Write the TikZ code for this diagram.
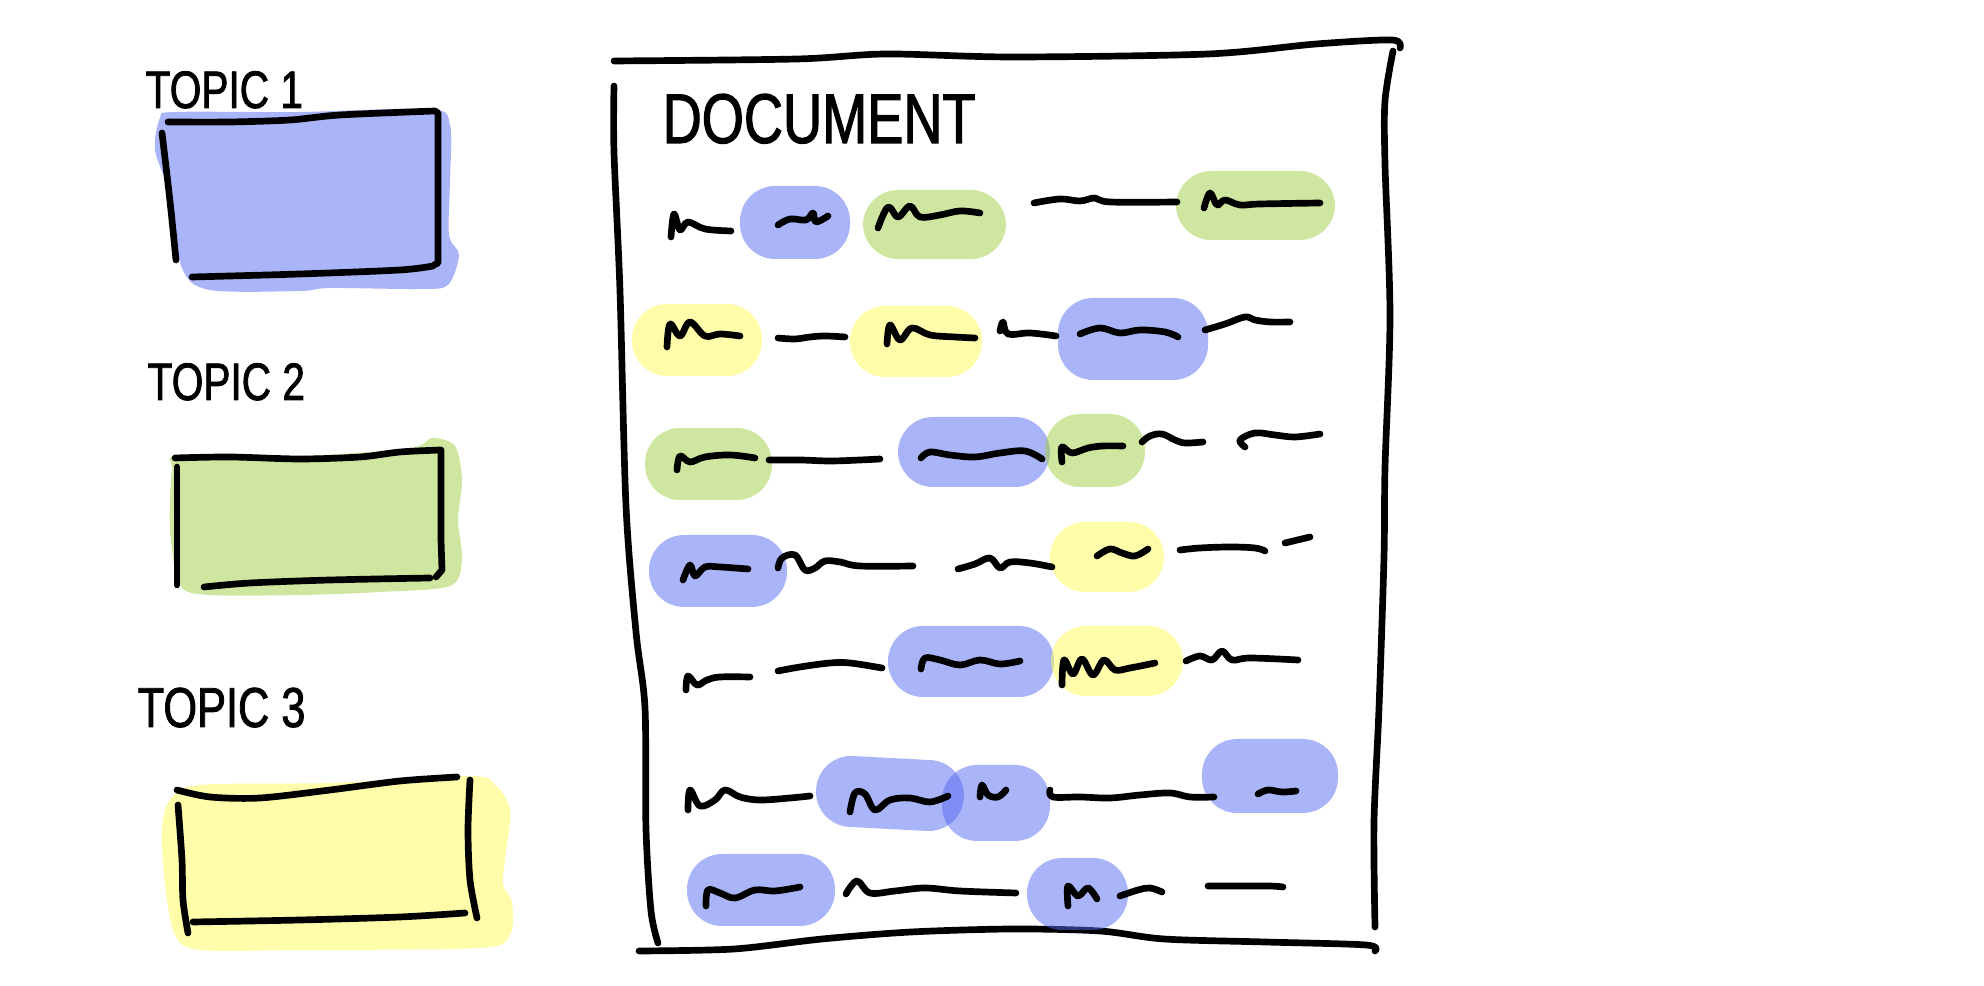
\documentclass[tikz,border=0pt]{standalone}
\usepackage{fontspec}
\newfontfamily\handfont[FakeStretch=0.77, FakeBold=1.5]{Liberation Sans}
\definecolor{topicblue}{RGB}{85,105,241}
\definecolor{topicgreen}{RGB}{159,205,65}
\definecolor{topicyellow}{RGB}{255,251,85}

\begin{document}
\begin{tikzpicture}[x=0.01cm, y=-0.01cm,
    pen/.style={line width=1.9pt, line cap=round, line join=round},
    hlblue/.style={fill=topicblue, fill opacity=0.5},
    hlgreen/.style={fill=topicgreen, fill opacity=0.5},
    hlyellow/.style={fill=topicyellow, fill opacity=0.5},
    blob/.style={rounded corners=10pt},
    handlabel/.style={anchor=base west, inner sep=0pt}]
    \useasboundingbox (0,0) rectangle (1984,986);

    % topic legend on the left
    \fill[hlblue] plot[smooth cycle, tension=0.5] coordinates {(175,112) (300,112) (430,109) (450,125) (450,180) (449,235) (459,255) (448,285) (420,289) (330,288) (300,291) (210,290) (182,268) (168,190) (155,150) (160,118)};
    \fill[hlgreen] plot[smooth cycle, tension=0.5] coordinates {(180,455) (300,456) (410,448) (432,438) (455,446) (462,480) (458,520) (462,560) (450,586) (380,592) (300,595) (210,595) (180,585) (170,530) (172,470)};
    \fill[hlyellow] plot[smooth cycle, tension=0.5] coordinates {(200,785) (330,783) (470,776) (495,785) (510,810) (505,860) (503,885) (512,902) (510,935) (480,948) (300,950) (200,950) (175,935) (165,885) (162,830) (170,800)};

    \node[handlabel, font=\handfont\fontsize{15}{18}\selectfont] (topic1) at (145,108) {TOPIC 1};
    \draw[pen] plot[smooth] coordinates {(168,122) (230,122) (290,120) (340,115) (435,111)} -- (438,113) -- (438,263) -- (434,265);
    \draw[pen] plot[smooth] coordinates {(192,277) (300,274) (400,270) (433,266)};
    \draw[pen] (162,133) .. controls (170,200) .. (176,260);

    \node[handlabel, font=\handfont\fontsize{15}{18}\selectfont] (topic2) at (147,400) {TOPIC 2};
    \draw[pen] plot[smooth] coordinates {(175,458) (230,457) (300,459) (360,457) (400,452) (441,450)} -- (441,540) -- (442,570) -- (436,577);
    \draw[pen] plot[smooth] coordinates {(204,587) (250,583) (330,580) (430,578)};
    \draw[pen] (177,467) -- (177,585);

    \node[handlabel, font=\handfont\fontsize{16}{19}\selectfont] (topic3) at (137,727) {TOPIC 3};
    \draw[pen] plot[smooth] coordinates {(177,790) (210,797) (260,798) (330,790) (400,781) (457,777)};
    \draw[pen] plot[smooth] coordinates {(470,780) (468,830) (470,880) (477,918)};
    \draw[pen] plot[smooth] coordinates {(193,922) (300,920) (400,917) (465,913)};
    \draw[pen] plot[smooth] coordinates {(178,805) (182,860) (183,900) (188,933)};

    % document sheet
    \draw[pen] plot[smooth] coordinates {(614,61) (797,59) (886,54) (1012,57) (1208,54) (1316,44) (1392,40) (1400,48)};
    \draw[pen] plot[smooth] coordinates {(614,86) (614,152) (620,291) (626,506) (636,632) (645,708) (646,829) (651,911) (658,943)};
    \draw[pen] plot[smooth] coordinates {(1393,51) (1385,101) (1385,164) (1390,316) (1385,468) (1384,557) (1379,708) (1374,822) (1375,927)};
    \draw[pen] plot[smooth] coordinates {(639,951) (734,949) (822,939) (911,932) (1012,929) (1100,931) (1164,939) (1265,942) (1366,945) (1375,951)};
    \node[handlabel, font=\handfont\fontsize{20}{24}\selectfont] (doctitle) at (662,143) {DOCUMENT};

    % highlights inside the document
    \fill[hlblue, blob] (740,186) rectangle (850,259);
    \fill[hlgreen, blob] (863,190) rectangle (1006,259);
    \fill[hlgreen, blob] (1176,171) rectangle (1335,240);
    \fill[hlyellow, blob] (632,304) rectangle (762,376);
    \fill[hlyellow, blob] (850,306) rectangle (982,377);
    \fill[hlblue, blob] (1058,298) rectangle (1208,380);
    \fill[hlgreen, blob] (645,428) rectangle (772,500);
    \fill[hlblue, blob] (898,417) rectangle (1050,487);
    \fill[hlgreen, blob] (1045,414) rectangle (1145,487);
    \fill[hlblue, blob] (649,535) rectangle (787,607);
    \fill[hlyellow, blob] (1050,522) rectangle (1164,592);
    \fill[hlblue, blob] (888,626) rectangle (1054,697);
    \fill[hlyellow, blob] (1051,626) rectangle (1183,696);
    \fill[hlblue, blob, rotate around={-3:(890,793)}] (816,758) rectangle (964,829);
    \fill[hlblue, blob] (942,765) rectangle (1050,841);
    \fill[hlblue, blob] (1202,739) rectangle (1338,813);
    \fill[hlblue, blob] (687,854) rectangle (835,926);
    \fill[hlblue, blob] (1027,858) rectangle (1128,930);

    % scribbled words, row by row
    \draw[pen] plot[smooth, tension=0.6] coordinates {(671,237) (674,214) (680,230) (688,222) (705,229) (731,231)};
    \draw[pen] plot[smooth, tension=0.6] coordinates {(778,225) (790,219) (806,220) (813,213) (816,222) (828,216)};
    \draw[pen] plot[smooth, tension=0.6] coordinates {(878,228) (888,207) (898,217) (910,206) (920,217) (940,215) (960,211) (980,213)};
    \draw[pen] plot[smooth, tension=0.6] coordinates {(1034,203) (1060,199) (1080,201) (1095,198) (1110,202) (1177,202)};
    \draw[pen] plot[smooth, tension=0.6] coordinates {(1204,208) (1210,193) (1217,205) (1225,200) (1240,205) (1260,204) (1320,203)};

    \draw[pen] plot[smooth, tension=0.6] coordinates {(667,347) (670,324) (680,336) (690,322) (705,336) (720,334) (740,336)};
    \draw[pen] plot[smooth, tension=0.6] coordinates {(778,338) (795,339) (810,337) (825,336) (845,337)};
    \draw[pen] plot[smooth, tension=0.6] coordinates {(887,344) (890,325) (900,340) (912,328) (930,335) (955,337) (975,338)};
    \draw[pen] plot[smooth, tension=0.6] coordinates {(1000,331) (1003,322) (1008,334) (1030,333) (1056,336)};
    \draw[pen] plot[smooth, tension=0.6] coordinates {(1080,334) (1100,328) (1120,333) (1140,330) (1165,332) (1178,337)};
    \draw[pen] plot[smooth, tension=0.6] coordinates {(1205,330) (1225,324) (1245,317) (1255,320) (1270,322) (1290,322)};

    \draw[pen] plot[smooth, tension=0.6] coordinates {(677,470) (680,456) (690,462) (705,457) (730,455) (755,458)};
    \draw[pen] plot[smooth, tension=0.6] coordinates {(769,460) (800,460) (830,461) (860,460) (880,459)};
    \draw[pen] plot[smooth, tension=0.6] coordinates {(921,458) (930,452) (950,455) (975,457) (1000,453) (1025,451) (1042,459)};
    \draw[pen] plot[smooth, tension=0.6] coordinates {(1062,462) (1062,447) (1072,453) (1088,448) (1103,446) (1123,446)};
    \draw[pen] plot[smooth, tension=0.6] coordinates {(1142,442) (1150,436) (1162,434) (1175,440) (1185,443) (1203,442)};
    \draw[pen] plot[smooth, tension=0.6] coordinates {(1245,447) (1240,440) (1255,433) (1275,435) (1295,437) (1320,434)};

    \draw[pen] plot[smooth, tension=0.6] coordinates {(683,580) (690,565) (695,576) (705,567) (720,567) (748,569)};
    \draw[pen] plot[smooth, tension=0.6] coordinates {(778,568) (782,558) (795,555) (805,570) (815,568) (825,561) (840,562) (860,566) (913,566)};
    \draw[pen] plot[smooth, tension=0.6] coordinates {(958,569) (975,564) (990,558) (1000,568) (1010,562) (1030,563) (1052,567)};
    \draw[pen] plot[smooth, tension=0.6] coordinates {(1097,556) (1110,549) (1122,553) (1135,556) (1148,549)};
    \draw[pen] plot[smooth, tension=0.6] coordinates {(1180,550) (1200,548) (1230,547) (1255,548) (1265,551)};
    \draw[pen] (1285,543) -- (1310,537);

    \draw[pen] plot[smooth, tension=0.6] coordinates {(686,690) (688,676) (697,685) (707,680) (720,677) (750,677)};
    \draw[pen] plot[smooth, tension=0.6] coordinates {(778,671) (800,667) (830,663) (850,663) (882,668)};
    \draw[pen] plot[smooth, tension=0.6] coordinates {(921,669) (925,658) (940,660) (960,665) (980,660) (1000,664) (1020,661)};
    \draw[pen] plot[smooth, tension=0.6] coordinates {(1062,685) (1064,660) (1073,674) (1082,659) (1093,675) (1104,660) (1115,670) (1130,668) (1155,663)};
    \draw[pen] plot[smooth, tension=0.6] coordinates {(1186,661) (1200,656) (1212,660) (1222,651) (1232,660) (1250,658) (1298,660)};

    \draw[pen] plot[smooth, tension=0.6] coordinates {(688,810) (690,790) (700,806) (715,800) (725,790) (740,797) (760,800) (790,798) (810,796)};
    \draw[pen] plot[smooth, tension=0.6] coordinates {(850,812) (855,793) (865,794) (875,810) (890,800) (910,798) (930,802) (948,796)};
    \draw[pen] plot[smooth, tension=0.6] coordinates {(980,797) (982,785) (988,795) (998,797) (1006,790)};
    \draw[pen] plot[smooth, tension=0.6] coordinates {(1050,790) (1053,797) (1080,797) (1110,798) (1140,795) (1170,793) (1190,797) (1214,797)};
    \draw[pen] plot[smooth, tension=0.6] coordinates {(1258,794) (1268,790) (1282,792) (1296,791)};

    \draw[pen] plot[smooth, tension=0.6] coordinates {(706,906) (708,890) (720,893) (735,898) (755,890) (775,891) (800,887)};
    \draw[pen] plot[smooth, tension=0.6] coordinates {(846,894) (857,881) (870,893) (895,891) (925,888) (960,891) (1016,893)};
    \draw[pen] plot[smooth, tension=0.6] coordinates {(1068,906) (1068,886) (1078,896) (1088,888) (1097,899)};
    \draw[pen] plot[smooth, tension=0.6] coordinates {(1120,896) (1138,890) (1150,888) (1162,892)};
    \draw[pen] plot[smooth, tension=0.6] coordinates {(1208,886) (1240,886) (1270,886) (1283,887)};
\end{tikzpicture}
\end{document}
